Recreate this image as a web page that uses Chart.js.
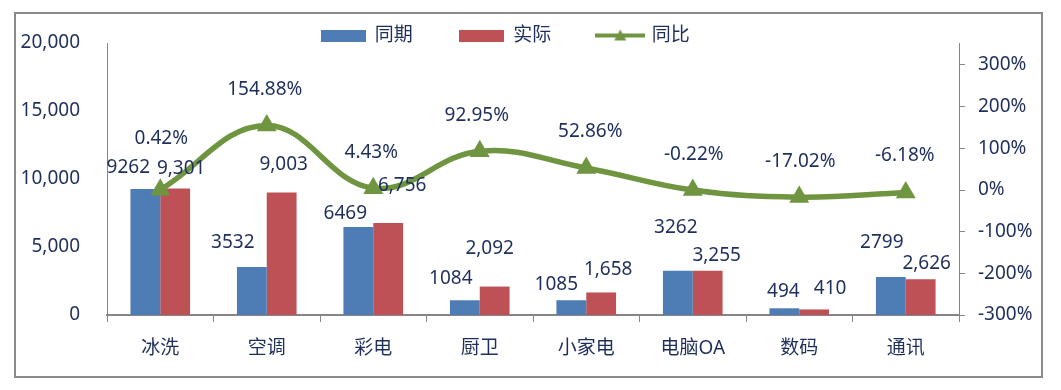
<!DOCTYPE html>
<html><head><meta charset="utf-8">
<script src="https://cdn.jsdelivr.net/npm/chart.js@4"></script>
<style>html,body{margin:0;padding:0;background:#fff}#wrap{width:1061px;height:390px}</style>
</head><body><div id="wrap"><canvas id="c" width="1061" height="390"></canvas></div>
<script>
const categories = ['冰洗','空调','彩电','厨卫','小家电','电脑OA','数码','通讯'];
const lastYear = [9262,3532,6469,1084,1085,3262,494,2799];
const actual = [9301,9003,6756,2092,1658,3255,410,2626];
const yoyPct = [0.42,154.88,4.43,92.95,52.86,-0.22,-17.02,-6.18];
const leftTicks = [0,5000,10000,15000,20000];
const rightTicks = [-300,-200,-100,0,100,200,300];
const seriesNames = ['同期','实际','同比'];

const BLUE = '#4E7CB5', RED = '#BD5155', GREEN = '#6F9540', TEXT = '#1F2F5C', AXIS = '#868686';
const FONT = '"Noto Sans", "Noto Sans CJK SC", sans-serif';

// label placement nudges (style only): [dx, dy] relative to element
const nudges = [
  [[-17,-21],[-19,-24],[-13,-13],[-14,-22],[-15,-16],[-2,-43],[-1,-17],[-9,-34]],
  [[6,-20],[2,-28],[14,-38],[-5,-38],[7,-23],[9,-15],[16,-21],[6,-16]],
  [[1,-51],[-2,-36],[-2,-36],[-3,-36],[4,-36],[1,-35],[1,-35],[-1,-37]]
];
const formatters = [
  v => String(v),
  v => v.toLocaleString('en-US'),
  v => v.toFixed(2) + '%'
];

function boxIcon(color){const c=document.createElement('canvas');c.width=45;c.height=12;const x=c.getContext('2d');x.fillStyle=color;x.fillRect(0,0,45,12);return c;}
function lineIcon(){const c=document.createElement('canvas');c.width=50;c.height=14;const x=c.getContext('2d');x.strokeStyle=GREEN;x.lineWidth=4;x.beginPath();x.moveTo(0,7);x.lineTo(50,7);x.stroke();x.fillStyle=GREEN;x.beginPath();x.moveTo(25,1);x.lineTo(31,12);x.lineTo(19,12);x.closePath();x.fill();return c;}
const icons = [boxIcon(BLUE), boxIcon(RED), lineIcon()];

const framePlugin = {
  id:'frame',
  beforeDraw(chart){
    const ctx = chart.ctx; ctx.save();
    ctx.fillStyle='#fff'; ctx.fillRect(0,0,chart.width,chart.height);
    ctx.strokeStyle='#8a8a8a'; ctx.lineWidth=2;
    ctx.strokeRect(15,13,1027,364);
    ctx.restore();
  }
};
const legendShift = {
  id:'legendShift',
  afterLayout(chart){
    const l = chart.legend; if(!l) return;
    l.top += 12; l.bottom += 12;
    l.left -= 23; l.right -= 23;
  }
};
const labelPlugin = {
  id:'valueLabels',
  afterDatasetsDraw(chart){
    const ctx = chart.ctx; ctx.save();
    ctx.font = '19px ' + FONT; ctx.fillStyle = TEXT;
    ctx.textAlign='center'; ctx.textBaseline='middle';
    chart.data.datasets.forEach((ds,di)=>{
      const meta = chart.getDatasetMeta(di);
      meta.data.forEach((el,i)=>{
        const n = nudges[di][i];
        ctx.fillText(formatters[di](ds.data[i]), el.x + n[0], el.y + n[1]);
      });
    });
    ctx.restore();
  }
};

new Chart(document.getElementById('c'), {
  type:'bar',
  data:{
    labels: categories,
    datasets:[
      {label:seriesNames[0], data:lastYear, backgroundColor:BLUE, yAxisID:'y', order:2, categoryPercentage:0.56, barPercentage:1.0},
      {label:seriesNames[1], data:actual, backgroundColor:RED, yAxisID:'y', order:2, categoryPercentage:0.56, barPercentage:1.0},
      {label:seriesNames[2], data:yoyPct, type:'line', yAxisID:'y1', order:0, borderColor:GREEN, backgroundColor:GREEN,
       borderWidth:5.5, tension:0.4, pointStyle:'triangle', pointRadius:11.5, pointHoverRadius:11.5, pointBorderWidth:0, pointBackgroundColor:GREEN, fill:false}
    ]
  },
  options:{
    responsive:false, animation:false, devicePixelRatio:1,
    layout:{padding:{left:15, right:19, top:-33, bottom:13}},
    plugins:{
      tooltip:{enabled:false},
      legend:{
        position:'top',
        labels:{
          usePointStyle:true, pointStyleWidth:44, boxHeight:12, padding:47,
          color:TEXT, font:{size:19, family:FONT},
          generateLabels(chart){
            return chart.data.datasets.map((ds,i)=>({
              text: ds.label, pointStyle: icons[i], fillStyle: ds.backgroundColor, strokeStyle: ds.backgroundColor,
              lineWidth:0, hidden:false, datasetIndex:i, fontColor:TEXT
            }));
          }
        }
      }
    },
    scales:{
      x:{
        grid:{display:true, drawOnChartArea:false, drawTicks:true, tickLength:7, color:AXIS, offset:true},
        border:{display:true, color:AXIS, width:2},
        ticks:{color:TEXT, font:{size:19, family:FONT}, padding:15},
        afterFit(s){ s.height = 62; }
      },
      y:{
        position:'left', min:0, max:20000,
        afterBuildTicks(s){ s.ticks = leftTicks.map(v=>({value:v})); },
        grid:{display:false, drawTicks:false},
        border:{display:true, color:AXIS, width:1},
        ticks:{color:TEXT, font:{size:19, family:FONT}, padding:27, callback:v=>Number(v).toLocaleString('en-US')},
        afterFit(s){ s.width = 92; }
      },
      y1:{
        position:'right', min:-300, max:352.8,
        afterBuildTicks(s){ s.ticks = rightTicks.map(v=>({value:v})); },
        grid:{display:true, drawOnChartArea:false, drawTicks:true, tickLength:6, color:AXIS},
        border:{display:true, color:AXIS, width:1},
        ticks:{color:TEXT, font:{size:19, family:FONT}, padding:13, crossAlign:'near', align:'center', callback:v=>v+'%'},
        afterFit(s){ s.width = 83; }
      }
    }
  },
  plugins:[framePlugin, legendShift, labelPlugin]
});
</script></body></html>
